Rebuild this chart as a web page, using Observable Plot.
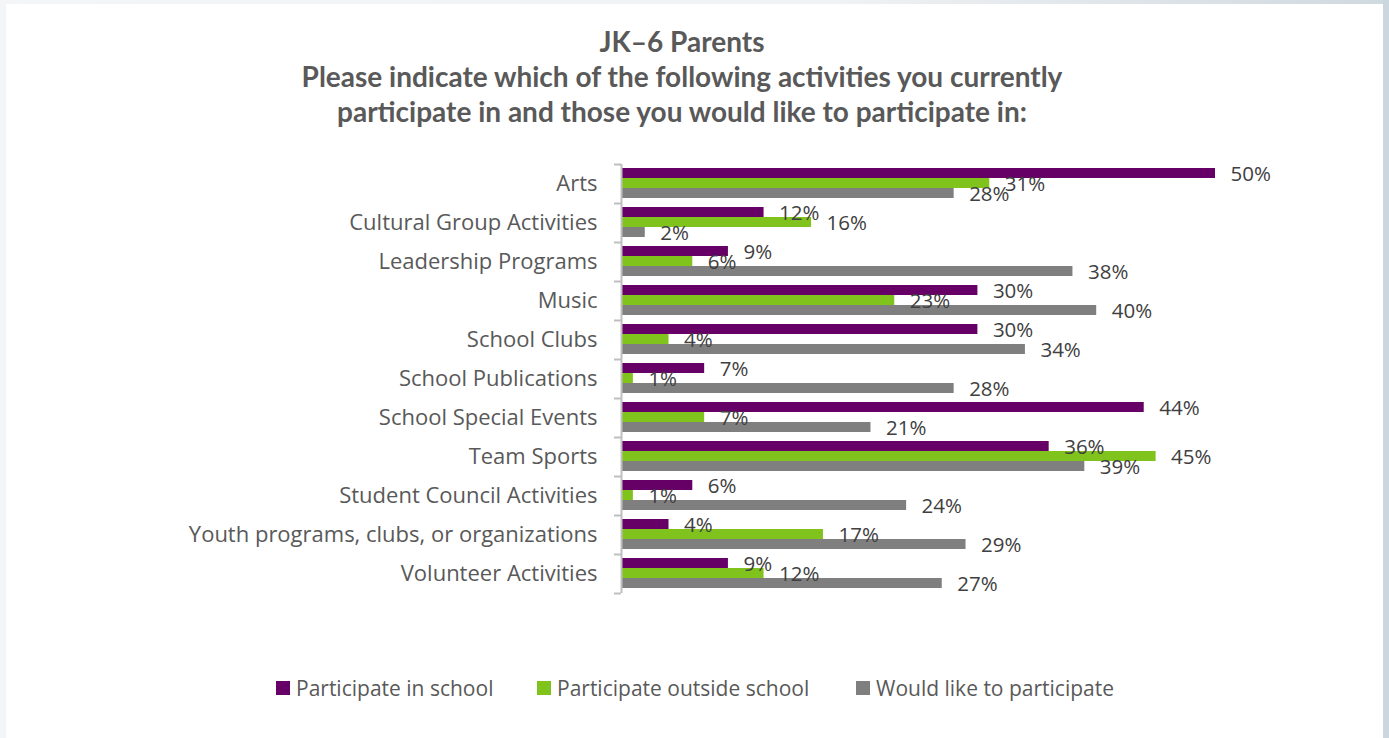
<!DOCTYPE html>
<html><head><meta charset="utf-8">
<script src="https://cdn.jsdelivr.net/npm/d3@7"></script>
<script src="https://cdn.jsdelivr.net/npm/@observablehq/plot@0.6"></script>
<style>
html,body{margin:0;padding:0;}
body{width:1389px;height:738px;background:#f4f5f7;position:relative;overflow:hidden;font-family:"Open Sans",sans-serif;}
#topedge{position:absolute;left:0;top:0;width:1389px;height:4px;background:linear-gradient(90deg,#f4f5f7 0%,#f0f2f4 60%,#cfd9e0 100%);}
#card{position:absolute;left:6px;top:4px;width:1377px;height:734px;background:#fff;}
#edge{position:absolute;left:1383px;top:0;width:6px;height:738px;background:#cbd7df;}
#title{position:absolute;left:132px;width:1100px;top:24px;text-align:center;font-family:Lato,sans-serif;font-weight:700;font-size:28px;line-height:35px;color:#595959;}
#chart{position:absolute;left:0;top:140px;}
.lg{position:absolute;top:676px;height:24px;display:flex;align-items:center;font-family:"Open Sans",sans-serif;font-size:21px;color:#595959;white-space:nowrap;}
.sw{display:inline-block;width:14px;height:14px;margin-right:6px;}
</style>
</head><body>
<div id="topedge"></div>
<div id="card"></div>
<div id="edge"></div>
<div id="title">JK–6 Parents<br>Please indicate which of the following activities you currently<br>participate in and those you would like to participate in:</div>
<div id="chart"></div>
<div id="legend"></div>
<script>
const categories = ["Arts","Cultural Group Activities","Leadership Programs","Music","School Clubs","School Publications","School Special Events","Team Sports","Student Council Activities","Youth programs, clubs, or organizations","Volunteer Activities"];
const inSchool  = [50,12,9,30,30,7,44,36,6,4,9];
const outside   = [31,16,6,23,4,1,7,45,1,17,12];
const wouldLike = [28,2,38,40,34,28,21,39,24,29,27];
const seriesNames = ["Participate in school","Participate outside school","Would like to participate"];
const colors = ["#660066","#7fc31c","#7f7f7f"];

const rows = categories.map((c,i)=>({category:c, inSchool:inSchool[i], outside:outside[i], wouldLike:wouldLike[i]}));
const keys = ["inSchool","outside","wouldLike"];
const insets = [[4,25],[14,15],[24,5]];
const dys = [-9.5,0.5,10.5];
const axisColor = "#bfbfbf";

const marks = [];
keys.forEach((k,j)=>{
  marks.push(Plot.barX(rows,{y:"category", x:k, fill:colors[j], insetTop:insets[j][0], insetBottom:insets[j][1]}));
});
keys.forEach((k,j)=>{
  marks.push(Plot.text(rows,{y:"category", x:k, text:d=>d[k]+"%", dx:15, dy:dys[j], textAnchor:"start", fill:"#404040", fontSize:20.5}));
});
marks.push(Plot.ruleX([0],{stroke:axisColor, strokeWidth:2}));
marks.push(Plot.ruleY(categories,{y:d=>d, x1:()=>0, x2:()=>0, insetLeft:-7, dy:-19.5, stroke:axisColor, strokeWidth:2}));
marks.push(Plot.ruleY([categories[categories.length-1]],{y:d=>d, x1:()=>0, x2:()=>0, insetLeft:-7, dy:19.5, stroke:axisColor, strokeWidth:2}));
marks.push(Plot.axisY({tickSize:0, tickPadding:24, fontSize:22, color:"#595959", label:null}));

const chart = Plot.plot({
  width:1389, height:470,
  marginLeft:621, marginRight:174, marginTop:24, marginBottom:17,
  style:{fontFamily:"Open Sans", fontSize:"20px", background:"transparent", overflow:"visible"},
  x:{domain:[0,50], axis:null},
  y:{domain:categories, padding:0, axis:null},
  marks
});
document.getElementById("chart").appendChild(chart);

const legendLefts = [276,537,856];
const lg = document.getElementById("legend");
seriesNames.forEach((n,i)=>{
  const d = document.createElement("div");
  d.className="lg"; d.style.left=legendLefts[i]+"px";
  d.innerHTML = `<span class="sw" style="background:${colors[i]}"></span>${n}`;
  lg.appendChild(d);
});
</script>
</body></html>
